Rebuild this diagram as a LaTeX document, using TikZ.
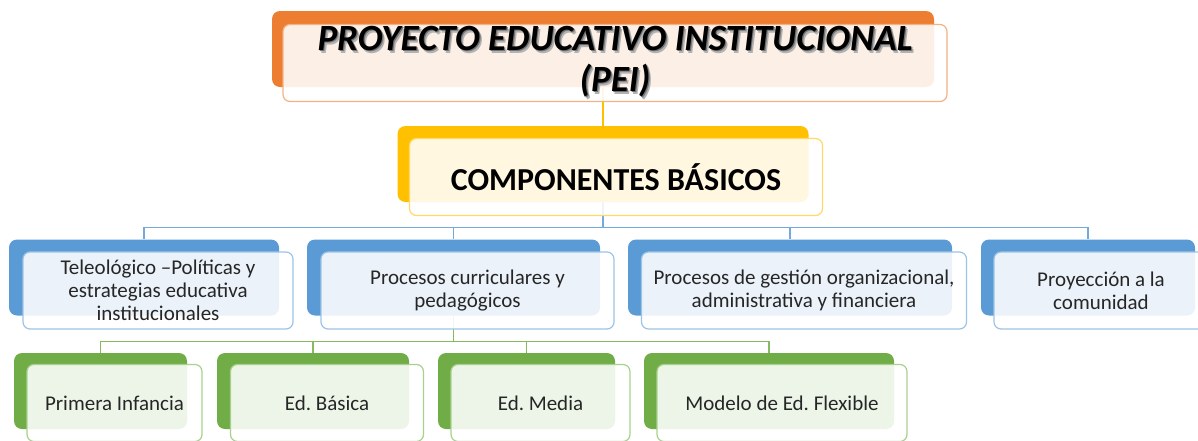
\documentclass[tikz,border=0pt]{standalone}
\usepackage{fontspec}
\setmainfont{Carlito}
\usepackage{tikz}
\usetikzlibrary{positioning, calc, backgrounds}
\frenchspacing

\definecolor{peiorange}{HTML}{ED7D31}
\definecolor{peiorangeline}{HTML}{F4B183}
\definecolor{compyellow}{HTML}{FFC000}
\definecolor{compyellowline}{HTML}{FFD966}
\definecolor{compblue}{HTML}{5B9BD5}
\definecolor{compblueline}{HTML}{9DC3E6}
\definecolor{levelgreen}{HTML}{70AD47}
\definecolor{levelgreenline}{HTML}{A9D18E}

\newcommand{\shadowtext}[1]{\makebox[0pt][l]{\kern2.5pt\raisebox{-2.5pt}{\textcolor{black!30}{#1}}}\makebox[0pt][l]{\kern1.2pt\raisebox{-1.2pt}{\textcolor{black!55}{#1}}}#1}

\tikzset{
  backbox/.style={rectangle, rounded corners=8pt, inner sep=0pt, minimum height=76pt},
  frontbox/.style={rectangle, rounded corners=7pt, inner sep=0pt, minimum height=77pt, fill=white, fill opacity=0.88, text opacity=1, line width=1.2pt, align=center, font=\fontsize{21}{23}\selectfont},
  orangeback/.style={backbox, fill=peiorange},
  orangefront/.style={frontbox, draw=peiorangeline, text=black, font=\fontsize{37}{41}\selectfont\bfseries\itshape},
  yellowback/.style={backbox, fill=compyellow},
  yellowfront/.style={frontbox, draw=compyellowline, text=black, font=\fontsize{32}{38}\selectfont\bfseries},
  blueback/.style={backbox, fill=compblue},
  bluefront/.style={frontbox, draw=compblueline},
  greenback/.style={backbox, fill=levelgreen},
  greenfront/.style={frontbox, draw=levelgreenline},
  yellowlink/.style={line width=1.2pt, draw=compyellow},
  bluelink/.style={line width=1.2pt, draw=compblue!85},
  greenlink/.style={line width=1.2pt, draw=levelgreen!85}
}

\begin{document}
\begin{tikzpicture}[x=1pt, y=-1pt, every node/.style={text=black!85}]
    \useasboundingbox (0,0) rectangle (1198,440);

    % Proyecto educativo
    \node (pei) [orangeback, minimum width=662pt] at (603,49) {};
    \node (pei-f) [orangefront, minimum width=664pt] at ([shift={(12,14)}]pei.center)
        {\shadowtext{PROYECTO EDUCATIVO INSTITUCIONAL}\\\shadowtext{(PEI)}};

    % Componentes
    \node (comp) [yellowback, minimum width=411pt] at (603,164) {};
    \node (comp-f) [yellowfront, minimum width=413pt] at ([shift={(13,13)}]comp.center) {COMPONENTES BÁSICOS};

    % Componentes basicos
    \node (teleo) [blueback, minimum width=270pt] at (144,277.5) {};
    \node (teleo-f) [bluefront, minimum width=270pt] at ([shift={(14,13)}]teleo.center)
        {Teleológico –Políticas y\\estrategias educativa\\institucionales};
    \node (curr) [blueback, minimum width=293pt] at (453.5,277.5) {};
    \node (curr-f) [bluefront, minimum width=293pt] at ([shift={(14,13)}]curr.center)
        {Procesos curriculares y\\pedagógicos};
    \node (gest) [blueback, minimum width=324pt] at (790,277.5) {};
    \node (gest-f) [bluefront, minimum width=325pt] at ([shift={(14,13)}]gest.center)
        {Procesos de gestión organizacional,\\administrativa y financiera};
    \node (proy) [blueback, minimum width=214pt] at (1088,277.5) {};
    \node (proy-f) [bluefront, minimum width=214pt] at ([shift={(13,13)}]proy.center)
        {Proyección a la\\comunidad};

    % Niveles
    \node (pinf) [greenback, minimum width=173pt] at (100.5,391) {};
    \node (pinf-f) [greenfront, minimum width=175pt] at ([shift={(14,12)}]pinf.center) {Primera Infancia};
    \node (basica) [greenback, minimum width=192pt] at (313,391) {};
    \node (basica-f) [greenfront, minimum width=193pt] at ([shift={(14,12)}]basica.center) {Ed. Básica};
    \node (media) [greenback, minimum width=177pt] at (526.5,391) {};
    \node (media-f) [greenfront, minimum width=179pt] at ([shift={(14,12)}]media.center) {Ed. Media};
    \node (flex) [greenback, minimum width=250pt] at (769,391) {};
    \node (flex-f) [greenfront, minimum width=250pt] at ([shift={(13,12)}]flex.center) {Modelo de Ed. Flexible};

    \begin{pgfonlayer}{background}
    % Conectores
    \draw [yellowlink] (pei.south) -- (comp.north);

    \draw [bluelink] (comp.south) -- ++(0,25.5) -| (teleo.north);
    \draw [bluelink] (comp.south) -- ++(0,25.5) -| (curr.north);
    \draw [bluelink] (comp.south) -- ++(0,25.5) -| (gest.north);
    \draw [bluelink] (comp.south) -- ++(0,25.5) -| (proy.north);

    \draw [greenlink] (curr.south) -- ++(0,26) -| (pinf.north);
    \draw [greenlink] (curr.south) -- ++(0,26) -| (basica.north);
    \draw [greenlink] (curr.south) -- ++(0,26) -| (media.north);
    \draw [greenlink] (curr.south) -- ++(0,26) -| (flex.north);
    \end{pgfonlayer}

\end{tikzpicture}
\end{document}
